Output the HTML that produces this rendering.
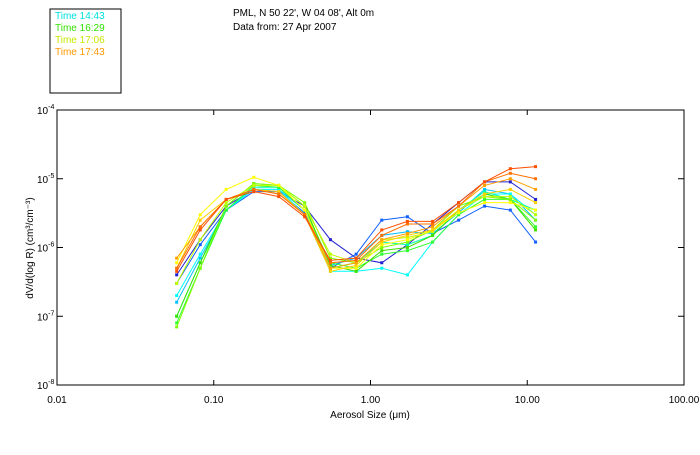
<!DOCTYPE html>
<html><head><meta charset="utf-8"><style>
body{margin:0;background:#fff}
svg{font-family:"Liberation Sans",sans-serif}
</style></head><body>
<svg id="c" width="700" height="450" xmlns="http://www.w3.org/2000/svg">
<rect x="50" y="9" width="71" height="84" fill="none" stroke="#000"/>
<g font-size="10">
<text x="55" y="19" fill="#00e0e0">Time 14:43</text>
<text x="55" y="31" fill="#30e000">Time 16:29</text>
<text x="55" y="43" fill="#c8e800">Time 17:06</text>
<text x="55" y="55" fill="#ff9800">Time 17:43</text>
</g>
<text x="233" y="16" font-size="10">PML, N 50 22', W 04 08', Alt 0m</text>
<text x="233" y="30" font-size="10">Data from: 27 Apr 2007</text>
<rect x="57" y="110" width="627" height="275" fill="none" stroke="#000"/>
<g id="axes"></g>
<g id="series"></g>
<text x="370" y="418" font-size="10" text-anchor="middle">Aerosol Size (μm)</text>
<text transform="translate(33,248) rotate(-90)" font-size="10" text-anchor="middle">dV/d(log R) (cm³/cm⁻³)</text>
</svg>
<script>
const sizes=[0.058,0.082,0.12,0.18,0.26,0.38,0.555,0.81,1.18,1.72,2.49,3.65,5.34,7.8,11.3];
const xTicks=[0.01,0.1,1,10,100];
const xTickLabels=["0.01","0.10","1.00","10.00","100.00"];
const yTicks=[-4,-5,-6,-7,-8];
const colors=["#2020d0","#1060ff","#00c0ff","#00ffff","#00ffb0","#30ff30","#40e000","#80ff00","#c0ff00","#ffff00","#ffd000","#ffa000","#ff7000","#ff5000"];
const s1=[4e-7,1.3e-6,4e-6,7e-6,6.5e-6,4e-6,1.3e-6,7e-7,6e-7,1.1e-6,2.2e-6,4.5e-6,9e-6,9e-6,5e-6];
const s2=[3e-7,1.1e-6,3.5e-6,6.5e-6,6.5e-6,3.2e-6,5e-7,8e-7,2.5e-6,2.8e-6,1.6e-6,2.5e-6,4e-6,3.5e-6,1.2e-6];
const s3=[1.6e-7,7e-7,3.5e-6,7e-6,7e-6,3.5e-6,5.5e-7,7e-7,1.5e-6,1.7e-6,1.6e-6,3.2e-6,7e-6,6e-6,2.5e-6];
const s4=[2e-7,8e-7,3.5e-6,7e-6,7e-6,3e-6,4.5e-7,4.5e-7,5e-7,4e-7,1.2e-6,3e-6,6e-6,6e-6,3e-6];
const s5=[1e-7,6e-7,3.5e-6,7.5e-6,7.5e-6,3.5e-6,5e-7,6e-7,1.2e-6,1.1e-6,1.5e-6,3.5e-6,6.5e-6,5e-6,3.5e-6];
const s6=[8e-8,5e-7,3.5e-6,8e-6,7.5e-6,3.5e-6,6e-7,5e-7,8e-7,9e-7,1.2e-6,3e-6,5e-6,5e-6,2e-6];
const s7=[1e-7,6e-7,4e-6,8.5e-6,8e-6,4e-6,5.5e-7,4.5e-7,9e-7,1e-6,1.5e-6,3.5e-6,6e-6,5e-6,1.8e-6];
const s8=[7e-8,5e-7,4e-6,8.5e-6,8e-6,4.5e-6,7e-7,6e-7,1e-6,1.2e-6,1.8e-6,4e-6,5.5e-6,5e-6,2.5e-6];
const s9=[3e-7,1.3e-6,4.5e-6,8e-6,8e-6,4e-6,8e-7,6e-7,1.3e-6,1.4e-6,1.7e-6,3.5e-6,5.5e-6,5.5e-6,3e-6];
const s10=[6e-7,3e-6,7e-6,1.05e-5,8e-6,3.5e-6,5e-7,5e-7,1.1e-6,1.3e-6,1.8e-6,3.2e-6,4.5e-6,4.5e-6,3.5e-6];
const s11=[5e-7,2.5e-6,5e-6,7e-6,6.5e-6,3e-6,4.5e-7,5.5e-7,1.2e-6,1.5e-6,1.8e-6,3.5e-6,6e-6,7e-6,4.5e-6];
const s12=[7e-7,2e-6,5e-6,7e-6,6e-6,3e-6,5e-7,6e-7,1.3e-6,1.6e-6,2e-6,4e-6,8e-6,1e-5,7e-6];
const s13=[5e-7,2e-6,5e-6,7e-6,6e-6,3e-6,6e-7,6.5e-7,1.5e-6,2.2e-6,2.2e-6,4e-6,9e-6,1.2e-5,1e-5];
const s14=[4.5e-7,1.8e-6,5e-6,6.5e-6,5.5e-6,2.8e-6,6.5e-7,7e-7,1.8e-6,2.4e-6,2.4e-6,4.5e-6,9e-6,1.4e-5,1.5e-5];
const allSeries=[s1,s2,s3,s4,s5,s6,s7,s8,s9,s10,s11,s12,s13,s14];
const NS="http://www.w3.org/2000/svg";
const X0=57,X1=684,Y0=110,Y1=385;
function xs(v){return X0+(Math.log10(v)+2)/4*(X1-X0);}
function ys(v){return Y0+(-4-Math.log10(v))/4*(Y1-Y0);}
function mk(tag,attrs,parent){const e=document.createElementNS(NS,tag);for(const k in attrs)e.setAttribute(k,attrs[k]);parent.appendChild(e);return e;}
const ax=document.getElementById('axes');
xTicks.forEach((t,i)=>{
  const x=xs(t);
  const a=mk('line',{x1:x,x2:x,y1:Y1,y2:Y1-5,stroke:'#000'},ax);
  
  
  const b=mk('line',{x1:x,x2:x,y1:Y0,y2:Y0+5,stroke:'#000'},ax);
  
  
  const tx=mk('text',{x:x,y:Y1+18,'font-size':10,'text-anchor':'middle'},ax);
  tx.textContent=xTickLabels[i];
  
  
});
yTicks.forEach(t=>{
  const y=ys(Math.pow(10,t));
  const a=mk('line',{x1:X0,x2:X0+6,y1:y,y2:y,stroke:'#000'},ax);
  
  
  const b=mk('line',{x1:X1,x2:X1-6,y1:y,y2:y,stroke:'#000'},ax);
  
  
  const tx=mk('text',{x:X0-20,y:y+4,'font-size':10},ax);
  tx.innerHTML='10<tspan dy="-5" font-size="7">'+t+'</tspan>';
  
  
});
const sg=document.getElementById('series');
allSeries.forEach((s,i)=>{
  const g=mk('g',{},sg);
  
  
  const pts=s.map((v,j)=>xs(sizes[j]).toFixed(1)+','+ys(v).toFixed(1)).join(' ');
  const pl=mk('polyline',{points:pts,fill:'none',stroke:colors[i],'stroke-width':1},g);
  
  
  s.forEach((v,j)=>{
    const r=mk('rect',{x:xs(sizes[j])-1.5,y:ys(v)-1.5,width:3,height:3,fill:colors[i]},g);
    
    
  });
});
</script>
</body></html>
